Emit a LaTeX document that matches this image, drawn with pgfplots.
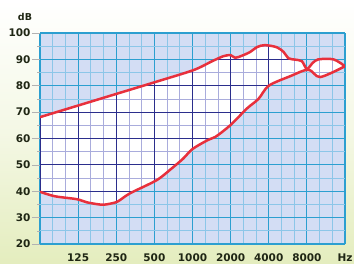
\documentclass[border=0pt]{standalone}
\usepackage{fontspec}
\setmainfont{DejaVu Sans}
\usepackage{pgfplots}
\usepackage{pgfplotstable}
\pgfplotsset{compat=1.18}
\usepgfplotslibrary{fillbetween}
\definecolor{bgout}{HTML}{D3DDF4}
\definecolor{navymaj}{HTML}{2B2E8C}
\definecolor{navymin}{HTML}{A9ACDC}
\definecolor{cyanmaj}{HTML}{2C9FD0}
\definecolor{cyanmin}{HTML}{8CC6E8}
\definecolor{redline}{HTML}{E8303C}
\definecolor{txt}{HTML}{1F2614}
\definecolor{bgbot}{HTML}{E4EDBE}

% x = octaves above 62.5 Hz (1 = 125 Hz, ..., 7 = 8000 Hz, 8 = 16000 Hz)
\pgfplotstableread{
x y
0 68.1
1 72.5
2 76.9
3 81.3
4.02 85.9
4.5 89.2
4.81 91.2
5.0 91.6
5.12 90.6
5.3 91.4
5.51 92.8
5.7 94.7
5.9 95.4
6.21 94.6
6.39 92.8
6.52 90.4
6.69 89.9
6.87 89.3
7.0 86.4
7.15 88.6
7.3 90.0
7.7 90.0
8.0 87.4
}\upcurve

\pgfplotstableread{
x y
0 39.8
0.39 38.1
0.96 37.0
1.23 35.8
1.62 34.9
1.88 35.4
2.05 36.2
2.36 39.2
3.06 44.2
3.45 48.6
3.75 52.3
4.0 56.0
4.4 59.4
4.6 60.6
4.99 65.0
5.43 71.4
5.73 75.0
6.0 80.0
6.56 83.6
7.04 86.1
7.35 83.3
8.0 87.4
}\locurve

\pgfplotsset{
  common/.style={
    scale only axis, width=305pt, height=211pt,
    at={(40pt,20pt)}, anchor=south west,
    xmin=0, xmax=8, ymin=20, ymax=100,
    xtick={0,1,2,3,4,5,6,7,8},
    ytick={20,30,40,50,60,70,80,90,100},
    minor x tick num=2, minor y tick num=1,
    axis line style={draw=none},
  },
  bare/.style={
    xticklabels={}, yticklabels={}, tick style={draw=none}, minor tick style={draw=none},
  }
}

\begin{document}
\begin{tikzpicture}
\shade[top color=white, bottom color=bgbot, middle color=white!60!bgbot] (0,0) rectangle (354pt,264pt);
\fill[bgout] (40pt,20pt) rectangle (345pt,231pt);

% layer 1: cyan grid over the light blue, labels and ticks
\begin{axis}[common, grid=both,
  major grid style={cyanmaj, line width=1.1pt},
  minor grid style={cyanmin, line width=0.7pt},
  xticklabels={,125,250,500,1000,2000,4000,8000,Hz},
  yticklabels={20,30,40,50,60,70,80,90,100},
  ticklabel style={font=\bfseries\fontsize{10.5}{12}\selectfont, text=txt},
  xtick style={draw=none}, minor tick style={draw=none},
  ytick style={draw=gray!60, line width=0.6pt},
  tick align=outside, major tick length=8pt, ytick pos=left, xtick pos=bottom,
  xticklabel style={yshift=2pt},
  yticklabel style={xshift=2pt},
]
\addplot[draw=none] coordinates {(0,20)};
\end{axis}

% layer 2: the region between the curves, white with navy grid, then the red outline
\begin{axis}[common, bare]
\addplot[draw=none, name path=up, smooth] table {\upcurve};
\addplot[draw=none, name path=lo, smooth] table {\locurve};
\begin{scope}
\clip[intersection segments={of=up and lo, sequence={L* -- R*[reverse]}}] -- cycle;
\fill[white] (axis cs:0,20) rectangle (axis cs:8,100);
\pgfplotsinvokeforeach{0.3333,0.6667,1.3333,1.6667,2.3333,2.6667,3.3333,3.6667,4.3333,4.6667,5.3333,5.6667,6.3333,6.6667,7.3333,7.6667}{
  \draw[navymin, line width=0.7pt] (axis cs:#1,20) -- (axis cs:#1,100);
}
\pgfplotsinvokeforeach{25,35,45,55,65,75,85,95}{
  \draw[navymin, line width=0.7pt] (axis cs:0,#1) -- (axis cs:8,#1);
}
\pgfplotsinvokeforeach{0,1,2,3,4,5,6,7,8}{
  \draw[navymaj, line width=1.1pt] (axis cs:#1,20) -- (axis cs:#1,100);
}
\pgfplotsinvokeforeach{20,30,40,50,60,70,80,90,100}{
  \draw[navymaj, line width=1.1pt] (axis cs:0,#1) -- (axis cs:8,#1);
}
\end{scope}
\addplot[redline, line width=2.5pt, smooth] table {\upcurve};
\addplot[redline, line width=2.5pt, smooth] table {\locurve};
\end{axis}

\node[font=\bfseries\fontsize{9.5}{11}\selectfont, text=txt] at (25pt,247pt) {dB};

\pgfresetboundingbox
\path[use as bounding box] (0,0) rectangle (354pt,264pt);
\end{tikzpicture}
\end{document}
